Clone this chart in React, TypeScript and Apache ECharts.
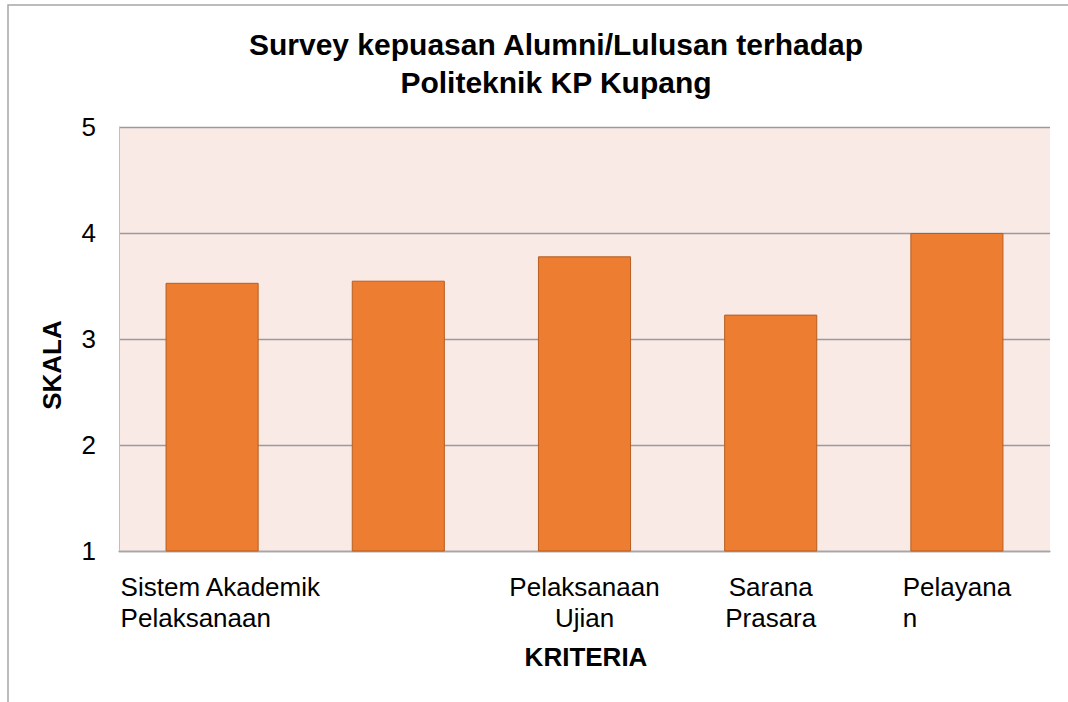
import React, { useEffect, useRef } from "react";
import * as echarts from "echarts";

const titleLines = ["Survey kepuasan Alumni/Lulusan terhadap", "Politeknik KP Kupang"];
const categories = ["Sistem Akademik\nPelaksanaan", "", "Pelaksanaan\nUjian", "Sarana\nPrasara", "Pelayana\nn"];
const values = [3.53, 3.55, 3.78, 3.23, 4.0];
const yMin = 1;
const yMax = 5;
const yStep = 1;
const xAxisTitle = "KRITERIA";
const yAxisTitle = "SKALA";

const FONT = "'Liberation Sans', Arial, Helvetica, sans-serif";

export default function App() {
  const ref = useRef<HTMLDivElement>(null);
  useEffect(() => {
    const chart = echarts.init(ref.current as HTMLDivElement, null, { renderer: "svg" });
    const labelBase = { fontFamily: FONT, fontSize: 26, lineHeight: 31, color: "#000" };
    chart.setOption({
      animation: false,
      backgroundColor: "#ffffff",
      title: {
        text: titleLines.join("\n"),
        left: 551,
        top: 20,
        textAlign: "center",
        textStyle: { fontFamily: FONT, fontSize: 30, fontWeight: "bold", color: "#000", lineHeight: 38 },
      },
      grid: {
        left: 119,
        right: 18,
        top: 127,
        bottom: 151,
        show: true,
        backgroundColor: "#F9EAE6",
        borderWidth: 0,
      },
      xAxis: {
        type: "category",
        data: categories,
        axisTick: { show: false },
        axisLine: { lineStyle: { color: "#a6a6a6", width: 1.3 } },
        axisLabel: {
          interval: 0,
          margin: 20,
          formatter: (v: string, i: number) => {
            if (!v) return "";
            const key = i === 0 ? "a" : i === categories.length - 1 ? "e" : "c";
            return v.split("\n").map((l) => `{${key}|${l}}`).join("\n");
          },
          rich: {
            a: { ...labelBase, width: 183, align: "left" },
            e: { ...labelBase, align: "left" },
            c: { ...labelBase },
          },
        },
      },
      yAxis: {
        type: "value",
        min: yMin,
        max: yMax,
        interval: yStep,
        axisLine: { show: true, lineStyle: { color: "#bfbfbf", width: 1 } },
        axisTick: { show: false },
        splitLine: { lineStyle: { color: "#9a9a9a", width: 1.3 } },
        axisLabel: { fontFamily: FONT, fontSize: 26, color: "#000", margin: 23 },
      },
      series: [
        {
          type: "bar",
          data: values,
          barWidth: "50%",
          itemStyle: { color: "#ED7D31", borderColor: "#B65E22", borderWidth: 1 },
        },
      ],
      graphic: [
        {
          type: "rect",
          shape: { x: 8, y: 5, width: 1300, height: 900 },
          style: { fill: "none", stroke: "#a6a6a6", lineWidth: 1.5 },
          silent: true,
        },
        {
          type: "text",
          x: 52,
          y: 365,
          rotation: Math.PI / 2,
          style: {
            text: yAxisTitle,
            fontFamily: FONT,
            fontSize: 26,
            fontWeight: "bold",
            fill: "#000",
            align: "center",
            verticalAlign: "middle",
          },
        },
        {
          type: "text",
          x: 586,
          y: 657,
          style: {
            text: xAxisTitle,
            fontFamily: FONT,
            fontSize: 26,
            fontWeight: "bold",
            fill: "#000",
            align: "center",
            verticalAlign: "middle",
          },
        },
      ],
    });
    return () => chart.dispose();
  }, []);
  return (
    <div
      ref={ref}
      style={{ position: "absolute", left: 0, top: 0, width: 1068, height: 702 }}
    />
  );
}
